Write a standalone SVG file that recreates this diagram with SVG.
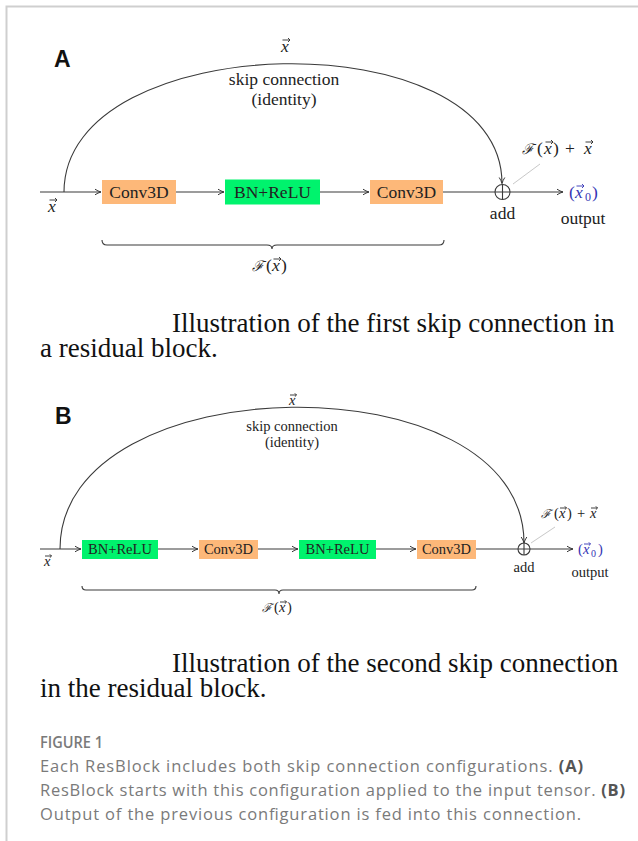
<svg xmlns="http://www.w3.org/2000/svg" width="638" height="841" viewBox="0 0 638 841">
<style>
.ln{fill:none;stroke:#3a3a3a;stroke-width:1.1}
.lead{fill:none;stroke:#c8c8c8;stroke-width:1}
.vec{fill:none;stroke:#2a2a2a;stroke-width:0.9}
.tA{font-family:"Liberation Serif","Times New Roman",serif;font-size:17.5px;fill:#222}
.tB{font-family:"Liberation Serif","Times New Roman",serif;font-size:14.5px;fill:#222}
.i{font-style:italic}
.F{font-family:"DejaVu Serif","Liberation Serif",serif;font-style:italic}
.blue{fill:#3434b4}
.orange{fill:#fdb879}
.green{fill:#00f36d}
.cap{font-family:"Liberation Serif","Times New Roman",serif;font-size:27px;fill:#111}
.lbl{font-family:"Liberation Sans",Arial,sans-serif;font-size:23px;font-weight:bold;fill:#111}
.fig{font-family:"Open Sans","Liberation Sans",sans-serif;fill:#7a7a7a;font-size:16.5px}
</style>
<defs>
<marker id="ar" viewBox="0 0 8 8" refX="7" refY="4" markerWidth="8" markerHeight="8" markerUnits="userSpaceOnUse" orient="auto">
<path d="M1,1.2 Q4,3.2 7,4 Q4,4.8 1,6.8" fill="none" stroke="#3a3a3a" stroke-width="1"/>
</marker>
<symbol id="va" overflow="visible"><path class="vec" d="M0,0 H7.5 M5.5,-2 L7.5,0 L5.5,2"/></symbol>
<symbol id="vb" overflow="visible"><path class="vec" d="M0,0 H6.5 M4.8,-1.7 L6.5,0 L4.8,1.7"/></symbol>
<symbol id="vblue" overflow="visible"><path fill="none" stroke="#3434b4" stroke-width="0.9" d="M0,0 H7.5 M5.5,-2 L7.5,0 L5.5,2"/></symbol>
<symbol id="vblueb" overflow="visible"><path fill="none" stroke="#3434b4" stroke-width="0.9" d="M0,0 H6.5 M4.8,-1.7 L6.5,0 L4.8,1.7"/></symbol>
</defs>
<!-- frame -->
<path d="M6.5,841 V6.5 H638" fill="none" stroke="#cfcfcf" stroke-width="2"/>

<!-- Panel A -->
<text class="lbl" x="54" y="67">A</text>
<g id="connectorsA">
<path class="ln" d="M40,192 H101" marker-end="url(#ar)"/>
<path class="ln" d="M176,192 H224" marker-end="url(#ar)"/>
<path class="ln" d="M320,192 H369" marker-end="url(#ar)"/>
<path class="ln" d="M443,192 H495"/>
<path class="ln" d="M510,192 H563" marker-end="url(#ar)"/>
<path class="ln" d="M64,192 C64,27 502,18 502,183.5" marker-end="url(#ar)"/>
<path class="lead" d="M513,184 L540,164"/>
<path class="ln" d="M102,240 Q102,245 107,245 H267 Q272,245 272,249 Q272,245 277,245 H439 Q444,245 444,240"/>
</g>
<g id="convA1"><rect class="orange" x="102" y="180" width="74" height="24"/><text class="tA" x="139" y="198" text-anchor="middle">Conv3D</text></g>
<g id="bnA"><rect class="green" x="225" y="179.5" width="95" height="25"/><text class="tA" x="272.5" y="198" text-anchor="middle">BN+ReLU</text></g>
<g id="convA2"><rect class="orange" x="370" y="180" width="73" height="24"/><text class="tA" x="406.5" y="198" text-anchor="middle">Conv3D</text></g>
<g id="addA"><circle cx="502.5" cy="192" r="7.5" fill="none" stroke="#3a3a3a" stroke-width="1.1"/><path class="ln" d="M495,192 H510 M502.5,184.5 V199.5"/>
<text class="tA" x="502.5" y="219" text-anchor="middle">add</text></g>
<g id="outA">
<text class="tA blue" y="198"><tspan x="569">(</tspan><tspan x="575" class="i">x</tspan><tspan x="585" dy="3" font-size="12">0</tspan><tspan x="592" dy="-3">)</tspan></text>
<use href="#vblue" x="576.5" y="186"/>
<text class="tA" x="583" y="224" text-anchor="middle">output</text></g>
<g id="labelsA">
<text class="tA i" x="281" y="52">x</text><use href="#va" x="282.5" y="40"/>
<text class="tA" x="284" y="85" text-anchor="middle">skip connection</text>
<text class="tA" x="284" y="105" text-anchor="middle">(identity)</text>
<text class="tA i" x="48" y="212">x</text><use href="#va" x="49.5" y="200"/>
<text class="tA" y="271"><tspan x="252" class="F" font-size="14.5">ℱ</tspan><tspan x="266">(</tspan><tspan x="272" class="i">x</tspan><tspan x="281">)</tspan></text>
<use href="#va" x="273.5" y="259"/>
<text class="tA" y="154"><tspan x="522" class="F" font-size="14.5">ℱ</tspan><tspan x="537">(</tspan><tspan x="544" class="i">x</tspan><tspan x="553">)</tspan><tspan x="565">+</tspan><tspan x="584" class="i">x</tspan></text>
<use href="#va" x="545.5" y="142"/><use href="#va" x="585.5" y="142"/>
</g>
<text class="cap" x="172" y="332">Illustration of the first skip connection in</text>
<text class="cap" x="40" y="357">a residual block.</text>

<!-- Panel B -->
<text class="lbl" x="55" y="424">B</text>
<g id="connectorsB">
<path class="ln" d="M40,549 H81" marker-end="url(#ar)"/>
<path class="ln" d="M158,549 H198" marker-end="url(#ar)"/>
<path class="ln" d="M258,549 H298" marker-end="url(#ar)"/>
<path class="ln" d="M376,549 H416" marker-end="url(#ar)"/>
<path class="ln" d="M476,549 H518"/>
<path class="ln" d="M530,549 H573" marker-end="url(#ar)"/>
<path class="ln" d="M60,549 C60,364 524,358 524,543" marker-end="url(#ar)"/>
<path class="lead" d="M531,543 L555,527"/>
<path class="ln" d="M82,586 Q82,590 86,590 H275 Q279,590 279,594 Q279,590 283,590 H472 Q476,590 476,586"/>
</g>
<g id="bnB1"><rect class="green" x="82" y="540" width="76" height="19"/><text class="tB" x="120" y="554" text-anchor="middle">BN+ReLU</text></g>
<g id="convB1"><rect class="orange" x="199" y="540" width="59" height="19"/><text class="tB" x="228.5" y="554" text-anchor="middle">Conv3D</text></g>
<g id="bnB2"><rect class="green" x="299" y="540" width="77" height="19"/><text class="tB" x="337.5" y="554" text-anchor="middle">BN+ReLU</text></g>
<g id="convB2"><rect class="orange" x="417" y="540" width="59" height="19"/><text class="tB" x="446.5" y="554" text-anchor="middle">Conv3D</text></g>
<g id="addB"><circle cx="524" cy="549" r="6" fill="none" stroke="#3a3a3a" stroke-width="1.1"/><path class="ln" d="M518,549 H530 M524,543 V555"/>
<text class="tB" x="524" y="572" text-anchor="middle">add</text></g>
<g id="outB">
<text class="tB blue" y="554"><tspan x="578">(</tspan><tspan x="583" class="i">x</tspan><tspan x="591" dy="3" font-size="10">0</tspan><tspan x="598" dy="-3">)</tspan></text>
<use href="#vblueb" x="584" y="544"/>
<text class="tB" x="590" y="577" text-anchor="middle">output</text></g>
<g id="labelsB">
<text class="tB i" x="289" y="405">x</text><use href="#vb" x="290" y="395"/>
<text class="tB" x="292" y="431" text-anchor="middle">skip connection</text>
<text class="tB" x="292" y="447" text-anchor="middle">(identity)</text>
<text class="tB i" x="44" y="566">x</text><use href="#vb" x="45" y="556"/>
<text class="tB" y="612"><tspan x="262" class="F" font-size="12">ℱ</tspan><tspan x="274">(</tspan><tspan x="279" class="i">x</tspan><tspan x="287">)</tspan></text>
<use href="#vb" x="280" y="602"/>
<text class="tB" y="518"><tspan x="541" class="F" font-size="12">ℱ</tspan><tspan x="554">(</tspan><tspan x="559" class="i">x</tspan><tspan x="567">)</tspan><tspan x="577">+</tspan><tspan x="590" class="i">x</tspan></text>
<use href="#vb" x="560" y="508"/><use href="#vb" x="591" y="508"/>
</g>
<text class="cap" x="172" y="672">Illustration of the second skip connection</text>
<text class="cap" x="40" y="697">in the residual block.</text>

<!-- Figure caption -->
<text class="fig" x="40" y="748" font-size="15.5" font-weight="600" textLength="63" lengthAdjust="spacingAndGlyphs">FIGURE 1</text>
<text class="fig" x="40" y="772" textLength="543" lengthAdjust="spacing">Each ResBlock includes both skip connection configurations. <tspan font-weight="bold" fill="#555">(A)</tspan></text>
<text class="fig" x="40" y="796" textLength="585" lengthAdjust="spacing">ResBlock starts with this configuration applied to the input tensor. <tspan font-weight="bold" fill="#555">(B)</tspan></text>
<text class="fig" x="40" y="820" textLength="541" lengthAdjust="spacing">Output of the previous configuration is fed into this connection.</text>
</svg>
